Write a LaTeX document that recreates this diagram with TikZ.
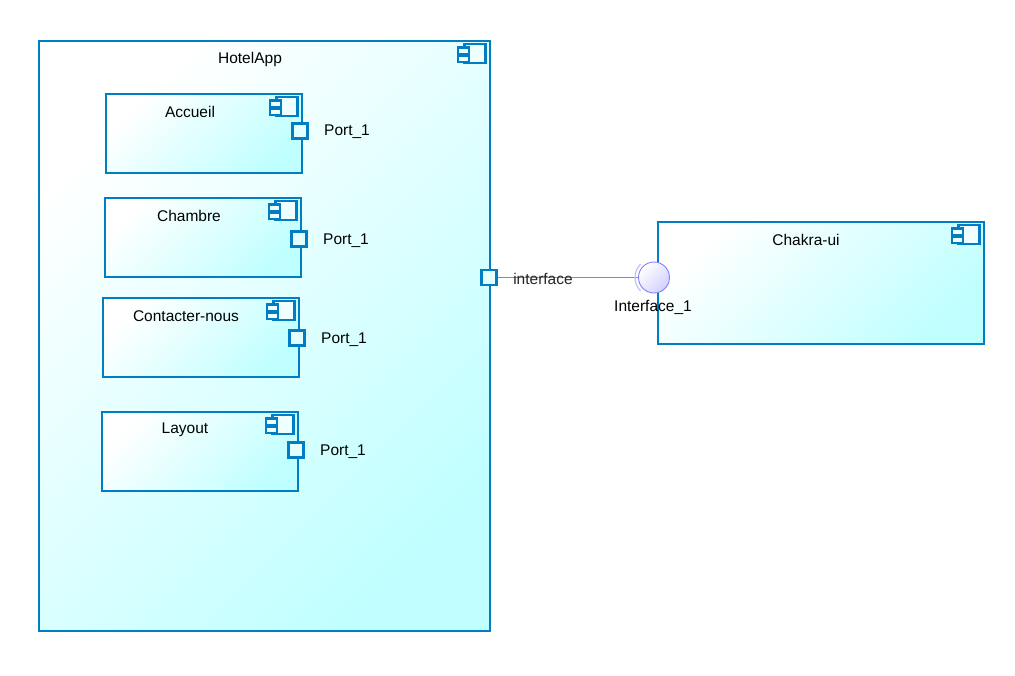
\documentclass[tikz,border=0pt]{standalone}
\usepackage{fontspec}
\setmainfont{Liberation Sans}
\definecolor{umlblue}{RGB}{0,125,195}
\definecolor{umlcyan}{RGB}{192,255,255}
\definecolor{ifline}{RGB}{128,128,255}
\definecolor{iffill}{RGB}{208,208,255}
\begin{document}
\begin{tikzpicture}[x=1pt,y=-1pt]
\useasboundingbox (0,0) rectangle (1015,675);
\tikzset{
  lbl/.style={font=\fontsize{15.5}{18}\selectfont, inner sep=1pt},
  comp/.style={draw=umlblue, line width=2.8pt, shading=axis, top color=white, bottom color=umlcyan, shading angle=45, anchor=north west, inner sep=0pt},
  portbox/.style={draw=umlblue, line width=2.6pt, fill=umlcyan!45, minimum size=15pt, inner sep=0pt},
  compicon/.pic={
    \draw[umlblue, line width=2.4pt, fill=umlcyan!25] (-27,4.5) rectangle (-6,23.5);
    \draw[umlblue, line width=2.2pt, fill=umlcyan!25] (-33,8) rectangle (-22,14.5);
    \draw[umlblue, line width=2.2pt, fill=umlcyan!25] (-33,16) rectangle (-22,22.5);
  }
}
% HotelApp
\node[comp, minimum width=451pt, minimum height=590pt] (hotel) at (37.5,39.5) {};
\pic at (hotel.north east) {compicon};
\node[lbl] (hotellbl) at (250,59) {HotelApp};
% Sub components
\node[comp, minimum width=196pt, minimum height=79pt] (accueil) at (104.5,92.5) {};
\pic at (accueil.north east) {compicon};
\node[lbl] (accueillbl) at (190,112) {Accueil};
\node[portbox] (p1) at (300,131) {};
\node[lbl] (p1lbl) at (347,132) {Port\_1};

\node[comp, minimum width=196pt, minimum height=79pt] (chambre) at (103.5,196.5) {};
\pic at (chambre.north east) {compicon};
\node[lbl] (chambrelbl) at (189,216) {Chambre};
\node[portbox] (p2) at (299,239) {};
\node[lbl] (p2lbl) at (346,241) {Port\_1};

\node[comp, minimum width=196pt, minimum height=79pt] (contact) at (101.5,296.5) {};
\pic at (contact.north east) {compicon};
\node[lbl] (contactlbl) at (186,316) {Contacter-nous};
\node[portbox] (p3) at (297,338) {};
\node[lbl] (p3lbl) at (344,340) {Port\_1};

\node[comp, minimum width=196pt, minimum height=79pt] (layout) at (100.5,410.5) {};
\pic at (layout.north east) {compicon};
\node[lbl] (layoutlbl) at (185,430) {Layout};
\node[portbox] (p4) at (296,450) {};
\node[lbl] (p4lbl) at (343,452) {Port\_1};

% Chakra-ui
\node[comp, minimum width=326pt, minimum height=122pt] (chakra) at (656.5,220.5) {};
\pic at (chakra.north east) {compicon};
\node[lbl] (chakralbl) at (806,240) {Chakra-ui};

% Interface
\node[portbox] (hp) at (489,277.5) {};
\draw[ifline, line width=0.9pt] (hp.east) -- (638,277.5) coordinate (lineend);
\node[circle, draw=ifline, line width=0.9pt, shading=axis, top color=white, bottom color=iffill, shading angle=45, minimum size=31pt, inner sep=0pt] (iface) at (654,277.5) {};
\draw[ifline!50, line width=1.2pt] (iface.center) ++(135:19) arc[start angle=135, end angle=225, radius=19];
\node[lbl, text=black!85] (ifacelbl) at (543,279) {interface};
\node[lbl] (iface1lbl) at (653,307) {Interface\_1};
\end{tikzpicture}
\end{document}
